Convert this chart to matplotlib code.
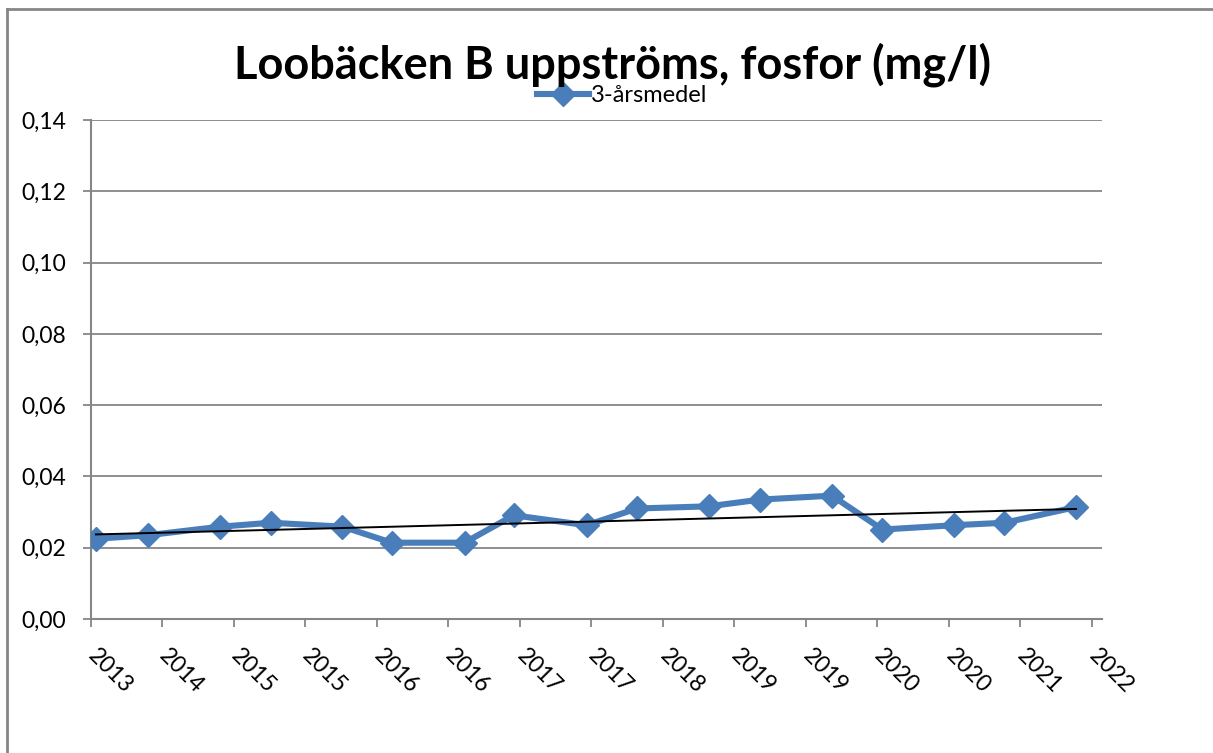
import numpy as np
import matplotlib
matplotlib.use("Agg")
from matplotlib import pyplot as plt
from matplotlib.ticker import FixedLocator, FuncFormatter

# Provtagningstidpunkter (decimala år) och 3-årsmedel fosfor (mg/l)
tidpunkt = [2013.94, 2014.36, 2014.95, 2015.36, 2015.94, 2016.34, 2016.93, 2017.33,
            2017.92, 2018.33, 2018.91, 2019.33, 2019.91, 2020.32, 2020.90, 2021.31, 2021.89]
fosfor = [0.0225, 0.0235, 0.0259, 0.0270, 0.0259, 0.0214, 0.0214, 0.0291,
          0.0263, 0.0310, 0.0316, 0.0335, 0.0346, 0.0251, 0.0263, 0.0270, 0.0314]
ar_etiketter = ['2013', '2014', '2015', '2015', '2016', '2016', '2017', '2017',
                '2018', '2019', '2019', '2020', '2020', '2021', '2022']

plt.rcParams['font.family'] = ['Lato', 'DejaVu Sans']

fig = plt.figure(figsize=(12.13, 7.53), dpi=100)
ax = fig.add_axes([0.075, 0.178, 0.8335, 0.6626])

gra = '#868686'
bla = '#4A7EBB'

# tidsaxel: start och steg mellan axelmarkeringar
start, steg = 2013.90, 0.58
ticks = start + steg * np.arange(len(ar_etiketter))

ax.plot(tidpunkt, fosfor, color=bla, lw=4.4, marker='D', markersize=12,
        label='3-årsmedel', zorder=3)

# linjär trendlinje
k, m = np.polyfit(tidpunkt, fosfor, 1)
tx = np.array([tidpunkt[0], tidpunkt[-1]])
ax.plot(tx, k * tx + m, color='black', lw=1.4, zorder=4)

ax.set_xlim(start, start + 14.14 * steg)
ax.set_ylim(0, 0.14)
ax.set_yticks(np.arange(0, 0.141, 0.02))
ax.yaxis.set_major_formatter(FuncFormatter(lambda v, p: f'{v:.2f}'.replace('.', ',')))
ax.xaxis.set_major_locator(FixedLocator(ticks))
ax.set_xticklabels(ar_etiketter, rotation=-45, ha='left', va='center',
                   rotation_mode='anchor')

ax.grid(axis='y', color=gra, lw=1.3)
ax.set_axisbelow(True)
for s in ['top', 'right']:
    ax.spines[s].set_visible(False)
for s in ['left', 'bottom']:
    ax.spines[s].set_color(gra)
    ax.spines[s].set_linewidth(1.5)
ax.tick_params(axis='both', color=gra, width=1.3, length=6, labelsize=16.5)
ax.tick_params(axis='x', pad=18)
ax.tick_params(axis='y', pad=12)

fig.text(0.505, 0.914, 'Loobäcken B uppströms, fosfor (mg/l)', ha='center', va='center',
         fontsize=32.5, fontweight='bold')
ax.legend(loc='center', bbox_to_anchor=(0.513, 0.873), bbox_transform=fig.transFigure,
          frameon=False, fontsize=17, handlelength=2.2, handletextpad=0.1,
          borderpad=0)

# diagramram
fig.add_artist(plt.Line2D([0.006, 0.006], [0, 0.988], color=gra, lw=2,
                          transform=fig.transFigure))
fig.add_artist(plt.Line2D([0.006, 1], [0.988, 0.988], color=gra, lw=2,
                          transform=fig.transFigure))

fig.savefig('out.png', dpi=100)
plt.close(fig)
